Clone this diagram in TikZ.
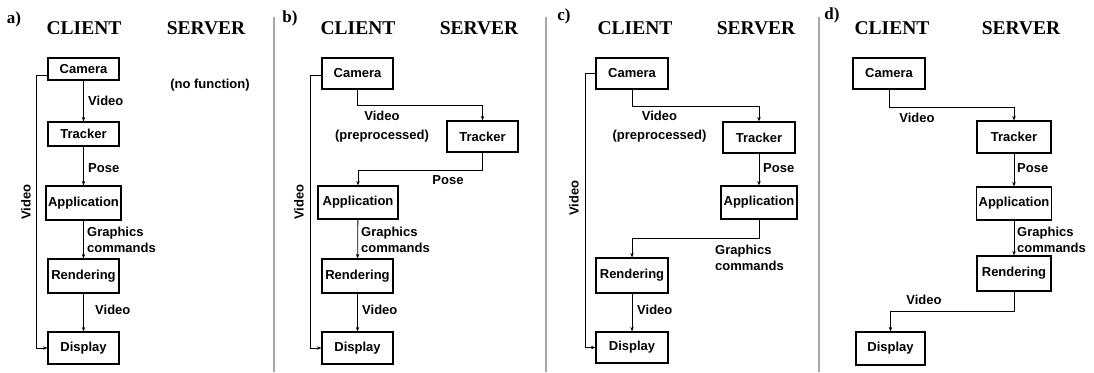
\documentclass[tikz,border=0pt]{standalone}
\usepackage{fontspec}
\setmainfont{Liberation Serif}
\setsansfont{Liberation Sans}
\usetikzlibrary{arrows.meta}
\begin{document}
\begin{tikzpicture}[x=1pt,y=-1pt,
  box/.style={draw,line width=1.2pt,inner sep=0pt,font=\sffamily\bfseries\fontsize{13}{16}\selectfont},
  lbl/.style={inner sep=0pt,font=\sffamily\bfseries\fontsize{13}{16}\selectfont},
  head/.style={inner sep=0pt,font=\rmfamily\bfseries\fontsize{19.5}{22}\selectfont},
  tag/.style={inner sep=0pt,font=\rmfamily\bfseries\fontsize{17}{20}\selectfont},
  flow/.style={line width=0.8pt,-{Stealth[length=4.5pt,width=3.5pt]}},
  sep/.style={line width=1.5pt,draw=black!35}]
\useasboundingbox (0,0) rectangle (1094,372);
% separators
\coordinate (s1t) at (274,17); \coordinate (s1b) at (274,372);
\coordinate (s2t) at (546,17); \coordinate (s2b) at (546,372);
\coordinate (s3t) at (819,17); \coordinate (s3b) at (819,372);
\draw[sep] (s1t) -- (s1b);
\draw[sep] (s2t) -- (s2b);
\draw[sep] (s3t) -- (s3b);
% headers
\node[tag] (ta) at (14,19) {a)};
\node[head] (ca) at (84,28) {CLIENT};
\node[head] (sa) at (206,28) {SERVER};
\node[tag] (tb) at (290,18) {b)};
\node[head] (cb) at (358,28) {CLIENT};
\node[head] (sb) at (479,28) {SERVER};
\node[tag] (tc) at (564,16) {c)};
\node[head] (cc) at (635,28) {CLIENT};
\node[head] (sc) at (756,28) {SERVER};
\node[tag] (td) at (832,15) {d)};
\node[head] (cd) at (892,28) {CLIENT};
\node[head] (sd) at (1021,28) {SERVER};
% ---------- panel a ----------
\node[box,minimum width=71pt,minimum height=22pt] (cama) at (83.5,69) {Camera};
\node[box,minimum width=71pt,minimum height=24pt] (trka) at (83.5,134) {Tracker};
\node[box,minimum width=75pt,minimum height=34pt] (appa) at (83.5,203) {Application};
\node[box,minimum width=71pt,minimum height=34pt] (rena) at (83.5,276) {Rendering};
\node[box,minimum width=71pt,minimum height=32pt] (disa) at (83.5,348) {Display};
\node[lbl] (nofn) at (210,85) {(no function)};
\draw[flow] (cama) -- (trka);
\draw[flow] (trka) -- (appa);
\draw[flow] (appa) -- (rena);
\draw[flow] (rena) -- (disa);
\node[lbl,anchor=west] (va1) at (88,101) {Video};
\node[lbl,anchor=west] (pa) at (88,168) {Pose};
\node[lbl,anchor=west,align=left] (ga) at (87,240) {Graphics\\commands};
\node[lbl,anchor=west] (va2) at (95,310) {Video};
\coordinate (la1) at (48,75);
\coordinate (la2) at (36,75);
\draw[flow] (la1) -- (la2) |- (disa.west);
\node[lbl,rotate=90] (vla) at (26,202) {Video};
% ---------- panel b ----------
\node[box,minimum width=71pt,minimum height=31pt] (camb) at (357.5,73.5) {Camera};
\node[box,minimum width=71pt,minimum height=31pt] (trkb) at (482.5,136.5) {Tracker};
\node[box,minimum width=80pt,minimum height=33pt] (appb) at (358,202.5) {Application};
\node[box,minimum width=71pt,minimum height=34pt] (renb) at (357.5,276) {Rendering};
\node[box,minimum width=71pt,minimum height=32pt] (disb) at (357.5,348) {Display};
\draw[flow] (camb.south) -- ++(0,16) -| (trkb.north);
\draw[flow] (trkb.south) -- ++(0,18) -| (appb.north);
\draw[flow] (appb) -- (renb);
\draw[flow] (renb) -- (disb);
\node[lbl,align=center] (vb1) at (382,126.5) {Video\\[3pt](preprocessed)};
\node[lbl] (pb) at (448,180) {Pose};
\node[lbl,anchor=west,align=left] (gb) at (361,240) {Graphics\\commands};
\node[lbl,anchor=west] (vb2) at (362,310) {Video};
\coordinate (lb1) at (322,75);
\coordinate (lb2) at (310,75);
\draw[flow] (lb1) -- (lb2) |- (disb.west);
\node[lbl,rotate=90] (vlb) at (299,202) {Video};
% ---------- panel c ----------
\node[box,minimum width=72pt,minimum height=31pt] (camc) at (632,73.5) {Camera};
\node[box,minimum width=72pt,minimum height=31pt] (trkc) at (759,137.5) {Tracker};
\node[box,minimum width=76pt,minimum height=33pt] (appc) at (759,202.5) {Application};
\node[box,minimum width=72pt,minimum height=35pt] (renc) at (632,275.5) {Rendering};
\node[box,minimum width=72pt,minimum height=31pt] (disc) at (632,347.5) {Display};
\draw[flow] (camc.south) -- ++(0,17) -| (trkc.north);
\draw[flow] (trkc) -- (appc);
\draw[flow] (appc.south) -- ++(0,19) -| (renc.north);
\draw[flow] (renc) -- (disc);
\node[lbl,align=center] (vc1) at (659.5,127) {Video\\[3pt](preprocessed)};
\node[lbl,anchor=west] (pc) at (763,168) {Pose};
\node[lbl,anchor=west,align=left] (gc) at (715,258) {Graphics\\commands};
\node[lbl,anchor=west] (vc2) at (637,310) {Video};
\coordinate (lc1) at (596,73);
\coordinate (lc2) at (585,73);
\draw[flow] (lc1) -- (lc2) |- (disc.west);
\node[lbl,rotate=90] (vlc) at (574,198) {Video};
% ---------- panel d ----------
\node[box,minimum width=72pt,minimum height=31pt] (camd) at (889,73.5) {Camera};
\node[box,minimum width=74pt,minimum height=32pt] (trkd) at (1014,137) {Tracker};
\node[box,minimum width=75pt,minimum height=33pt] (appd) at (1014,203.5) {Application};
\node[box,minimum width=74pt,minimum height=35pt] (rend) at (1014,273.5) {Rendering};
\node[box,minimum width=69pt,minimum height=33pt] (disd) at (890.5,348.5) {Display};
\draw[flow] (camd.south) -- ++(0,18) -| (trkd.north);
\draw[flow] (trkd) -- (appd);
\draw[flow] (appd) -- (rend);
\draw[flow] (rend.south) -- ++(0,20) -| (disd.north);
\node[lbl] (vd1) at (917,118) {Video};
\node[lbl,anchor=west] (pd) at (1017,168) {Pose};
\node[lbl,anchor=west,align=left] (gd) at (1017,240) {Graphics\\commands};
\node[lbl] (vd2) at (924,300) {Video};
\end{tikzpicture}
\end{document}
